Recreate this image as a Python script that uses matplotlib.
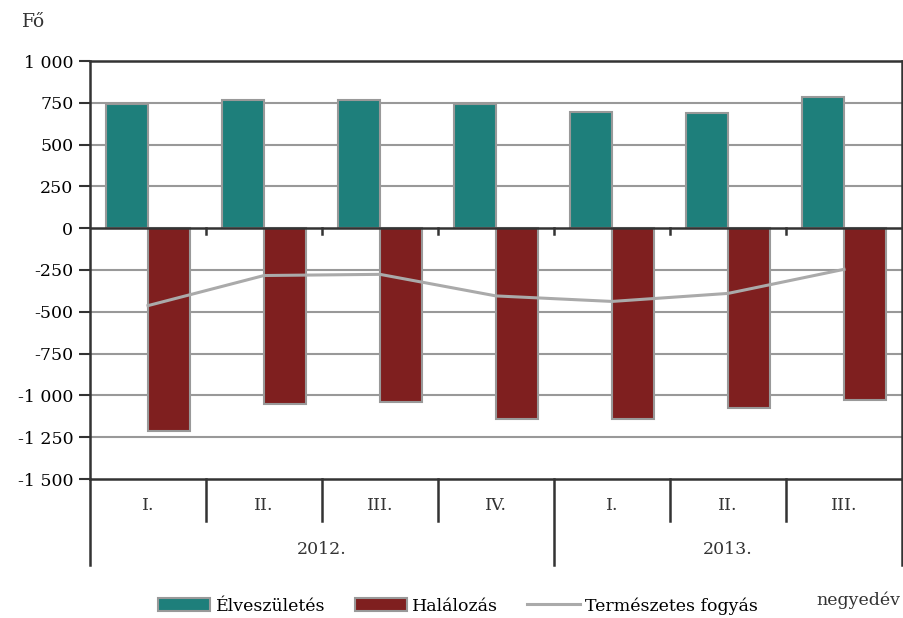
import matplotlib.pyplot as plt
import numpy as np

# negyedéves adatok, fő
negyedevek = ["I.", "II.", "III.", "IV.", "I.", "II.", "III."]
evek = ["2012.", "2013."]
ev_hossz = [4, 3]
elveszuletes = [742, 765, 765, 742, 696, 690, 782]
halalozas = [-1210, -1050, -1041, -1140, -1140, -1077, -1025]
fogyas = [-463, -283, -276, -405, -438, -390, -246]
y_ticks = [1000, 750, 500, 250, 0, -250, -500, -750, -1000, -1250, -1500]

plt.rcParams['font.family'] = ['DejaVu Serif']
plt.rcParams['font.size'] = 12.5

teal = "#1e7f7b"
red = "#7f1f1f"
edge = "#999999"
dark = "#333333"

fig = plt.figure(figsize=(9.04, 6.18), dpi=100)
ax = fig.add_axes([90 / 904, 1 - 479 / 618, 812 / 904, 418 / 618])

x = np.arange(len(negyedevek))
w = 0.362
b1 = ax.bar(x - w / 2, elveszuletes, w, color=teal, edgecolor=edge, linewidth=1.5,
            label="Élveszületés", zorder=2)
b2 = ax.bar(x + w / 2, halalozas, w, color=red, edgecolor=edge, linewidth=1.5,
            label="Halálozás", zorder=2)
l1, = ax.plot(x, fogyas, color="#aaaaaa", linewidth=2.2, label="Természetes fogyás", zorder=3)

ax.set_xlim(-0.5, len(negyedevek) - 0.5)
ax.set_ylim(-1500, 1000)
ax.set_yticks(y_ticks)
ax.set_yticklabels([f"{v:,}".replace(",", "\u00a0") for v in y_ticks])
for v in y_ticks:
    if v not in (0, 1000, -1500):
        ax.axhline(v, color=edge, linewidth=1.5, zorder=1)
ax.axhline(0, color=dark, linewidth=1.8, zorder=4)

ax.tick_params(axis="y", direction="out", length=8, width=1.5, color=dark, pad=4)
ax.set_xticks([])
for s in ax.spines.values():
    s.set_color(dark)
    s.set_linewidth(1.8)

tr = ax.get_xaxis_transform()
# kis jelölők a nulla vonalon
for b in np.arange(0.5, len(negyedevek) - 1, 1):
    ax.plot([b, b], [0.6, 0.6 - 6 / 418], transform=tr, color=dark, lw=1.8, zorder=4)

# kategória tengely alul
cat_low = -42 / 418
year_low = -86 / 418
edges = np.cumsum([0] + ev_hossz) - 0.5
for b in np.arange(-0.5, len(negyedevek) + 0.5, 1):
    low = year_low if np.any(np.isclose(edges, b)) else cat_low
    ax.plot([b, b], [0, low], transform=tr, color=dark, lw=1.8, clip_on=False)
for xi, lab in zip(x, negyedevek):
    ax.text(xi, -27 / 418, lab, transform=tr, ha="center", va="center",
            color="#333333")
start = -0.5
for ev, n in zip(evek, ev_hossz):
    ax.text(start + n / 2, -70 / 418, ev, transform=tr, ha="center", va="center",
            color="#333333")
    start += n

fig.text(22 / 904, 1 - 22 / 618, "Fő", ha="left", va="center", color="#333333",
         fontsize=13.5)
fig.text(858 / 904, 1 - 600 / 618, "negyedév", ha="center", va="center", color="#333333")

fig.legend([b1, b2, l1], ["Élveszületés", "Halálozás", "Természetes fogyás"],
           loc="center", bbox_to_anchor=(458 / 904, 1 - 606 / 618), ncol=3,
           frameon=False, handlelength=3.0, handleheight=0.8, columnspacing=1.7,
           handletextpad=0.3, borderaxespad=0)

plt.savefig("out.png", dpi=100)
